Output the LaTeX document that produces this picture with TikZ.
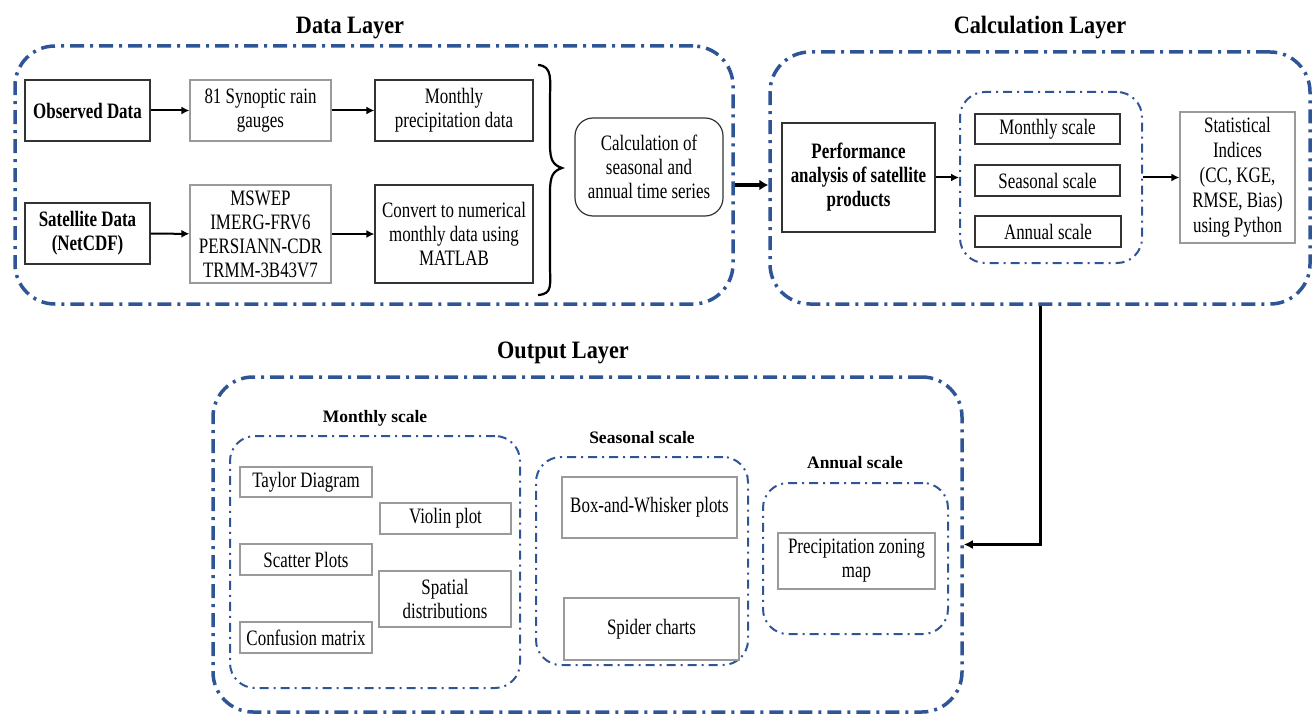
\documentclass[tikz,border=0pt]{standalone}
\usepackage{fontspec}
\setmainfont[FakeStretch=0.77]{Liberation Serif}
\newfontfamily\plainfont{Liberation Serif}
\newfontfamily\titlefont[FakeStretch=0.89]{Liberation Serif}
\usetikzlibrary{arrows.meta,calc}
\definecolor{lblue}{HTML}{2F5597}
\definecolor{dgray}{HTML}{333333}
\definecolor{lgray}{HTML}{9A9A9A}
\begin{document}
\begin{tikzpicture}[x=1pt,y=-1pt,
  txt/.style={font=\fontsize{22}{24}\selectfont, align=center, inner sep=0pt},
  dbox/.style={txt, draw=dgray, line width=1.2pt, rectangle},
  gbox/.style={txt, draw=lgray, line width=1.2pt, rectangle},
  bold/.style={font=\fontsize{22}{24}\selectfont\bfseries},
  layer/.style={draw=lblue, line width=3.5pt, rounded corners=40pt,
     dash pattern=on 14pt off 6pt on 3pt off 6pt, inner sep=0pt},
  sublayer/.style={draw=lblue, line width=2pt, rounded corners=25pt,
     dash pattern=on 9pt off 5pt on 2pt off 5pt, inner sep=0pt},
  title/.style={font=\titlefont\fontsize{25}{28}\selectfont\bfseries, inner sep=0pt},
  sublabel/.style={font=\plainfont\fontsize{17.5}{20}\selectfont\bfseries, inner sep=0pt},
  arr/.style={line width=2pt, -{Latex[length=8pt,width=8pt]}},
  bigarr/.style={line width=4pt, -{Latex[length=9pt,width=11pt]}}
]
\useasboundingbox (0,0) rectangle (1313,714);

% Titles
\node[title] (t1) at (350,28) {Data Layer};
\node[title] (t2) at (1040,28) {Calculation Layer};
\node[title] (t3) at (563,353) {Output Layer};

% Containers
\node[layer, minimum width=718pt, minimum height=258pt] (datalayer) at (374,175) {};
\node[layer, minimum width=540pt, minimum height=252pt] (calclayer) at (1040,178) {};
\node[layer, minimum width=749pt, minimum height=335pt] (outlayer) at (587.5,544.5) {};

% Data layer boxes
\node[dbox, bold, minimum width=125pt, minimum height=61pt] (obs) at (87.5,110.5) {Observed Data};
\node[gbox, minimum width=141pt, minimum height=61pt] (gauges) at (260.5,110.5) {81 Synoptic rain\\gauges};
\node[dbox, minimum width=158pt, minimum height=61pt] (monthly) at (454,110.5) {Monthly\\precipitation data};
\node[dbox, bold, minimum width=125pt, minimum height=61pt] (sat) at (87.5,233.5) {Satellite Data\\(NetCDF)};
\node[gbox, minimum width=141pt, minimum height=98pt] (prod) at (260.5,234) {MSWEP\\IMERG-FRV6\\PERSIANN-CDR\\TRMM-3B43V7};
\node[dbox, minimum width=158pt, minimum height=98pt] (conv) at (454,234) {Convert to numerical\\monthly data using\\MATLAB};
\node[txt, draw=dgray, line width=1.2pt, rounded corners=18pt, minimum width=148pt, minimum height=98pt] (calcts) at (649,167) {Calculation of\\seasonal and\\annual time series};

\draw[arr] (obs) -- (gauges);
\draw[arr] (gauges) -- (monthly);
\draw[arr] (sat) -- (prod);
\draw[arr] (prod) -- (conv);

% Brace
\coordinate (bt) at (538,65);
\coordinate (bb) at (538,295);
\draw[line width=2.2pt] (bt) .. controls (553,66) and (550,80) .. (550,100) -- (550,145)
   .. controls (550,160) and (553,165) .. (562,168)
   .. controls (553,171) and (550,176) .. (550,192) -- (550,265)
   .. controls (550,285) and (553,294) .. (bb);

% Data -> Calculation
\draw[bigarr] (datalayer.east |- 0,185) -- (calclayer.west |- 0,185);

% Calculation layer
\node[dbox, bold, minimum width=153pt, minimum height=109pt] (perf) at (858.5,177.5) {Performance\\analysis of satellite\\products};
\node[sublayer, minimum width=182pt, minimum height=171pt] (scales) at (1051,177.5) {};
\node[dbox, minimum width=145pt, minimum height=30pt] (ms) at (1047.5,129) {Monthly scale};
\node[dbox, minimum width=145pt, minimum height=31pt] (ss) at (1047.5,180.5) {Seasonal scale};
\node[dbox, minimum width=146pt, minimum height=31pt] (as) at (1048,231.5) {Annual scale};
\node[gbox, font=\fontsize{22}{25}\selectfont, minimum width=115pt, minimum height=131pt] (stats) at (1237.5,177.5) {Statistical\\Indices\\(CC, KGE,\\RMSE, Bias)\\using Python};

\draw[arr] (perf) -- (scales);
\draw[arr] (scales) -- (stats);

% Calculation -> Output
\draw[line width=3pt, -{Latex[length=9pt,width=9pt]}] (calclayer.south) |- (outlayer.east);

% Output layer
\node[sublabel] (lm) at (375,418) {Monthly scale};
\node[sublayer, minimum width=290pt, minimum height=252pt] (mon) at (375,562) {};
\node[gbox, minimum width=132pt, minimum height=30pt] (taylor) at (306,482) {Taylor Diagram};
\node[gbox, minimum width=131pt, minimum height=31pt] (violin) at (445.5,518.5) {Violin plot};
\node[gbox, minimum width=132pt, minimum height=31pt] (scatter) at (306,559.5) {Scatter Plots};
\node[gbox, minimum width=132pt, minimum height=56pt] (spatial) at (445,599) {Spatial\\distributions};
\node[gbox, minimum width=132pt, minimum height=31pt] (conf) at (306,637.5) {Confusion matrix};

\node[sublabel] (ls) at (642,438) {Seasonal scale};
\node[sublayer, minimum width=212pt, minimum height=208pt] (sea) at (642,561) {};
\node[gbox, minimum width=175pt, minimum height=61pt] (box) at (649.5,507.5) {Box-and-Whisker plots};
\node[gbox, minimum width=175pt, minimum height=62pt] (spider) at (651.5,629) {Spider charts};

\node[sublabel] (la) at (855,463) {Annual scale};
\node[sublayer, minimum width=185pt, minimum height=151pt] (ann) at (855.5,558.5) {};
\node[gbox, minimum width=157pt, minimum height=56pt] (zone) at (856.5,561) {Precipitation zoning\\map};
\end{tikzpicture}
\end{document}
